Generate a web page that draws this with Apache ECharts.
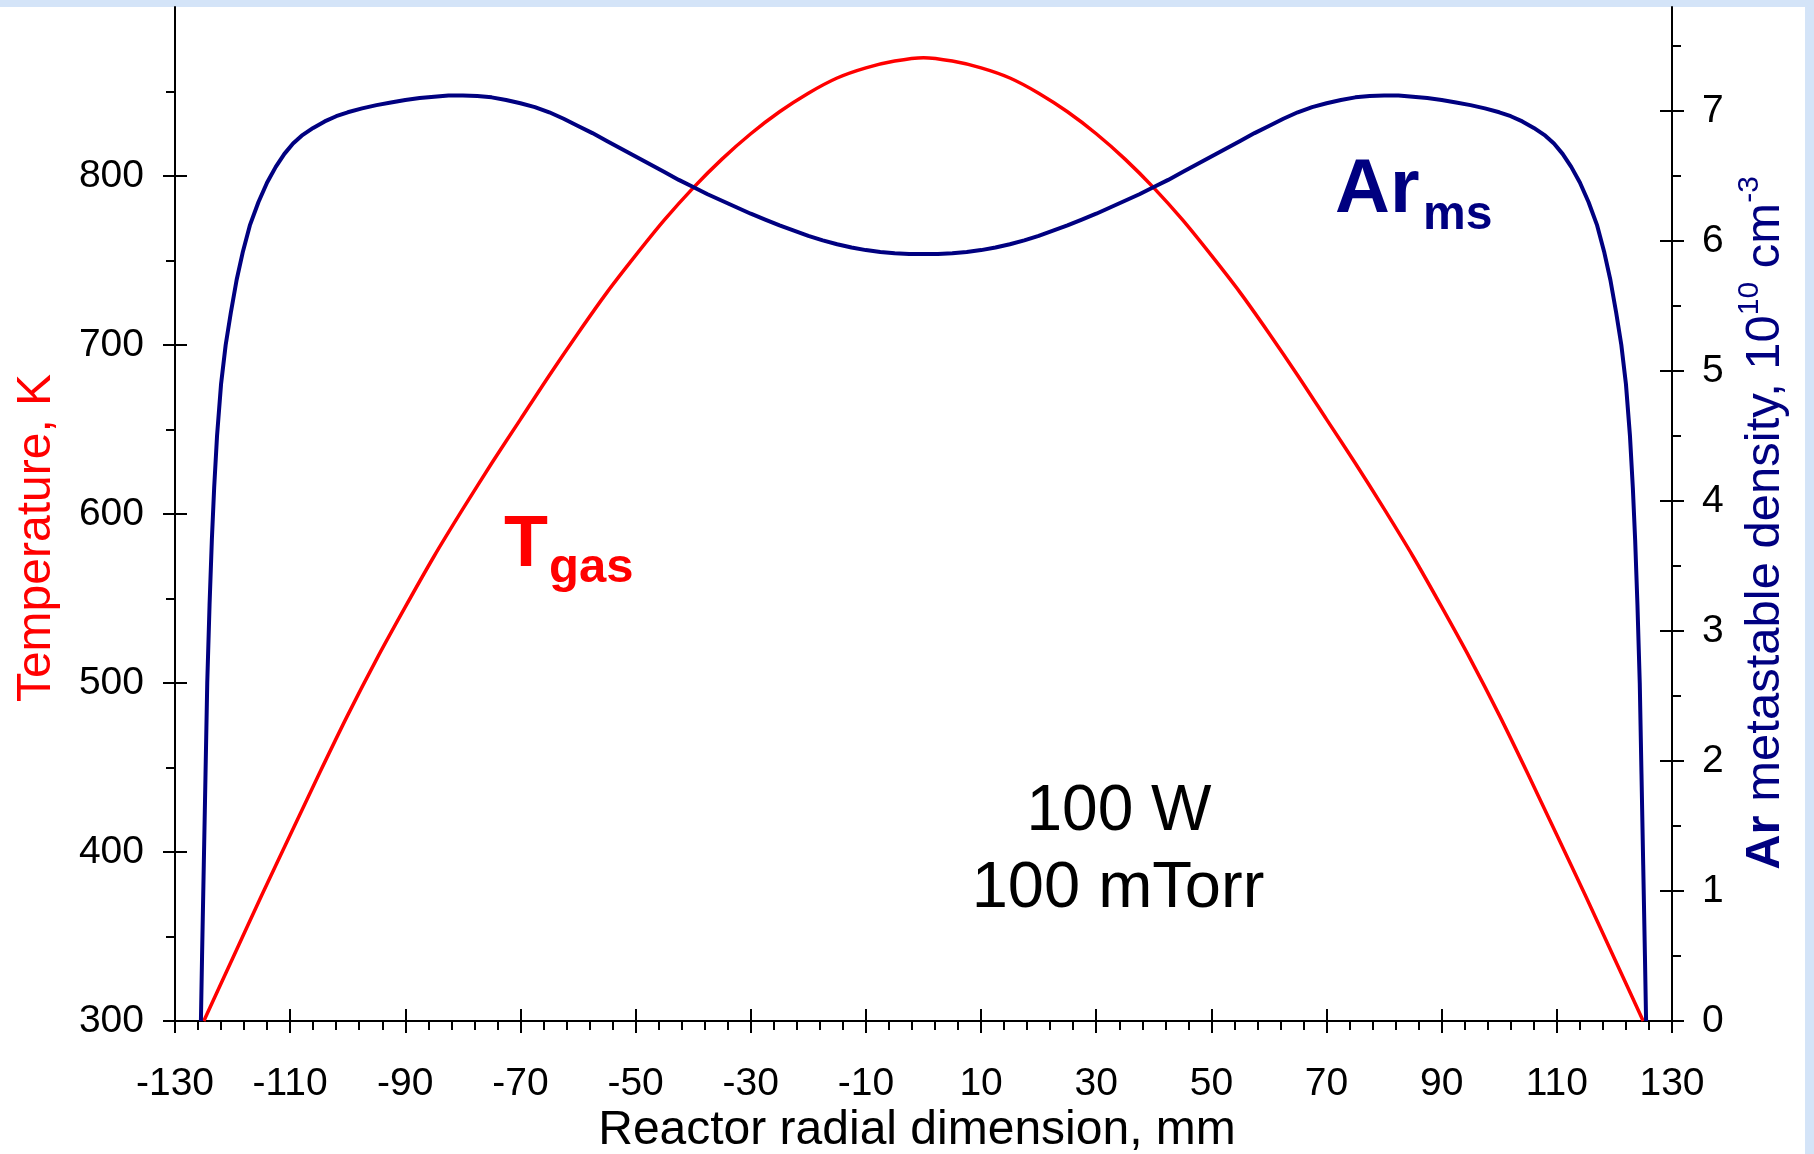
<!DOCTYPE html>
<html>
<head>
<meta charset="utf-8">
<title>Gas temperature and Ar metastable density</title>
<script src="https://cdn.jsdelivr.net/npm/echarts@6/dist/echarts.min.js"></script>
<style>
  html, body { margin: 0; padding: 0; width: 1814px; height: 1154px; overflow: hidden; background: #d4e4f8; }
  #panel { position: absolute; left: 0; top: 7px; width: 1805px; height: 1147px; background: #ffffff; }
  #chart { position: absolute; left: 0; top: 0; width: 1814px; height: 1154px; }
</style>
</head>
<body>
<div id="panel"></div>
<div id="chart"></div>
<script>
// Radial profiles at 100 W, 100 mTorr
// Gas temperature, K (every 5 mm)
const tgasX = [-125, -120, -115, -110, -105, -100, -95, -90, -85, -80, -75, -70, -65, -60, -55, -50, -45, -40,
               -35, -30, -25, -20, -15, -10, -5, 0,
               5, 10, 15, 20, 25, 30, 35, 40, 45, 50, 55, 60, 65, 70, 75, 80, 85, 90, 95, 100, 105, 110,
               115, 120, 125];
const tgasK = [300, 337, 374, 410, 446, 481, 514, 545, 575, 603, 630, 656, 682, 707, 731, 753, 774, 793,
               810, 825, 838, 849, 858, 864, 868, 870,
               868, 864, 858, 849, 838, 825, 810, 793, 774, 753, 731, 707, 682, 656, 630, 603, 575, 545, 514,
               481, 446, 410, 374, 337, 300];

// Ar metastable density, 1e10 cm^-3
const armsX = [-125.5, -125.3, -125.0, -124.7, -124.4, -124.0, -123.6, -123.2, -122.7, -122.0, -121.2, -120.3,
               -119.3, -118.2, -117.0, -115.5, -114.0, -112.5, -111.0, -109.5, -108.0, -106.0, -104.0, -102.0,
               -100.0, -97.5, -95.0, -92.5, -90.0, -87.5, -85.0, -82.5, -80.0, -77.5, -75.0, -72.5, -70.0,
               -67.5, -65.0, -62.5, -60.0, -57.5, -55.0, -52.5, -50.0, -47.5, -45.0, -42.5, -40.0, -37.5,
               -35.0, -32.5, -30.0, -27.5, -25.0, -22.5, -20.0, -17.5, -15.0, -12.5, -10.0, -7.5, -5.0, -2.5,
               0,
               2.5, 5.0, 7.5, 10.0, 12.5, 15.0, 17.5, 20.0, 22.5, 25.0, 27.5, 30.0, 32.5, 35.0, 37.5, 40.0,
               42.5, 45.0, 47.5, 50.0, 52.5, 55.0, 57.5, 60.0, 62.5, 65.0, 67.5, 70.0, 72.5, 75.0, 77.5, 80.0,
               82.5, 85.0, 87.5, 90.0, 92.5, 95.0, 97.5, 100.0, 102.0, 104.0, 106.0, 108.0, 109.5, 111.0,
               112.5, 114.0, 115.5, 117.0, 118.2, 119.3, 120.3, 121.2, 122.0, 122.7, 123.2, 123.6, 124.0,
               124.4, 124.7, 125.0, 125.3, 125.5];
const armsDensity = [0, 0.5, 1.2, 1.9, 2.6, 3.2, 3.7, 4.1, 4.5, 4.9, 5.2, 5.45,
                     5.7, 5.92, 6.12, 6.3, 6.45, 6.57, 6.67, 6.75, 6.81, 6.87, 6.92, 6.96,
                     6.99, 7.02, 7.045, 7.065, 7.085, 7.10, 7.11, 7.12, 7.12, 7.115, 7.105, 7.085, 7.06,
                     7.03, 6.99, 6.94, 6.885, 6.83, 6.77, 6.71, 6.65, 6.59, 6.53, 6.47, 6.415, 6.36,
                     6.31, 6.26, 6.21, 6.165, 6.12, 6.08, 6.04, 6.005, 5.975, 5.95, 5.93, 5.915, 5.905, 5.90,
                     5.90,
                     5.90, 5.905, 5.915, 5.93, 5.95, 5.975, 6.005, 6.04, 6.08, 6.12, 6.165, 6.21, 6.26, 6.31, 6.36, 6.415,
                     6.47, 6.53, 6.59, 6.65, 6.71, 6.77, 6.83, 6.885, 6.94, 6.99, 7.03, 7.06, 7.085, 7.105, 7.115, 7.12,
                     7.12, 7.11, 7.10, 7.085, 7.065, 7.045, 7.02, 6.99, 6.96, 6.92, 6.87, 6.81, 6.75, 6.67,
                     6.57, 6.45, 6.3, 6.12, 5.92, 5.7, 5.45, 5.2, 4.9, 4.5, 4.1, 3.7, 3.2,
                     2.6, 1.9, 1.2, 0.5, 0];

// Axis tick labels
const radiusTicks = [-130, -110, -90, -70, -50, -30, -10, 10, 30, 50, 70, 90, 110, 130];
const tempTicks = [300, 400, 500, 600, 700, 800];
const densityTicks = [0, 1, 2, 3, 4, 5, 6, 7];

// minor tick positions between the labelled ones
function subdivide(ticks, parts, extraEnd) {
  const out = [];
  for (let i = 1; i < ticks.length; i++) {
    const step = (ticks[i] - ticks[i - 1]) / parts;
    for (let k = 1; k < parts; k++) out.push(+(ticks[i - 1] + k * step).toFixed(4));
  }
  if (extraEnd !== undefined) out.push(extraEnd);
  return out;
}
const radiusMinor = subdivide(radiusTicks, 5);
const tempMinor = subdivide(tempTicks, 2, 850);
const densityMinor = subdivide(densityTicks, 2, 7.5);

const FONT = '"Liberation Sans", Arial, Helvetica, sans-serif';
const RED = '#ff0000';
const NAVY = '#000080';
const BLACK = '#000000';

function pairs(xs, ys) { return xs.map((x, i) => [x, ys[i]]); }

function axis(position, min, max, opts) {
  return {
    type: 'value', position, min, max,
    axisLine: { show: !!opts.line, onZero: false, lineStyle: { color: BLACK, width: 2 } },
    axisTick: { show: true, inside: !!opts.inside, customValues: opts.ticks, length: opts.len,
                lineStyle: { color: BLACK, width: 2 } },
    axisLabel: opts.labels ? { show: true, customValues: opts.ticks, color: BLACK, fontSize: 39,
                               fontFamily: FONT, margin: opts.margin } : { show: false },
    splitLine: { show: false },
    minorTick: { show: false },
    axisPointer: { show: false }
  };
}

const chart = echarts.init(document.getElementById('chart'), null, { renderer: 'canvas' });

chart.setOption({
  animation: false,
  backgroundColor: 'transparent',
  grid: { left: 175, right: 142, top: 7, bottom: 133, containLabel: false },
  xAxis: [
    axis('bottom', -130, 130, { line: true, ticks: radiusTicks, len: 12, labels: true, margin: 44 }),
    axis('bottom', -130, 130, { inside: true, ticks: radiusTicks, len: 12 }),
    axis('bottom', -130, 130, { ticks: radiusMinor, len: 9 })
  ],
  yAxis: [
    axis('left', 300, 900, { line: true, ticks: tempTicks, len: 12, labels: true, margin: 31 }),
    axis('left', 300, 900, { inside: true, ticks: tempTicks, len: 12 }),
    axis('left', 300, 900, { ticks: tempMinor, len: 9 }),
    axis('right', 0, 7.8, { line: true, ticks: densityTicks, len: 12, labels: true, margin: 30 }),
    axis('right', 0, 7.8, { inside: true, ticks: densityTicks, len: 12 }),
    axis('right', 0, 7.8, { ticks: densityMinor, len: 9 })
  ],
  series: [
    {
      name: 'Tgas', type: 'line', xAxisIndex: 0, yAxisIndex: 0,
      data: pairs(tgasX, tgasK), showSymbol: false, smooth: 0.3,
      lineStyle: { color: RED, width: 3.5, join: 'round' }, z: 3
    },
    {
      name: 'Arms', type: 'line', xAxisIndex: 0, yAxisIndex: 3,
      data: pairs(armsX, armsDensity), showSymbol: false, smooth: false,
      lineStyle: { color: NAVY, width: 4, join: 'round' }, z: 4
    }
  ],
  graphic: [
    { type: 'text', x: 37, y: 538, rotation: Math.PI / 2, z: 10,
      style: { text: 'Temperature, K', fill: RED, fontSize: 48, fontFamily: FONT, align: 'center', verticalAlign: 'middle' } },
    { type: 'text', x: 1765, y: 523, rotation: Math.PI / 2, z: 10,
      style: {
        text: '{b|Ar}{n| metastable density, 10}{s|10}{n| cm}{s|-3}',
        fill: NAVY, fontFamily: FONT, align: 'center', verticalAlign: 'middle',
        rich: {
          b: { fontSize: 49, fontWeight: 'bold', fill: NAVY, fontFamily: FONT, lineHeight: 60 },
          n: { fontSize: 49, fill: NAVY, fontFamily: FONT, lineHeight: 60 },
          s: { fontSize: 30, fill: NAVY, fontFamily: FONT, lineHeight: 44, verticalAlign: 'top' }
        }
      } },
    { type: 'text', x: 917, y: 1131, z: 10,
      style: { text: 'Reactor radial dimension, mm', fill: BLACK, fontSize: 48, fontFamily: FONT, align: 'center', verticalAlign: 'middle' } },
    { type: 'text', x: 504, y: 546, z: 10,
      style: { text: 'T', fill: RED, fontSize: 72, fontWeight: 'bold', fontFamily: FONT, align: 'left', verticalAlign: 'middle' } },
    { type: 'text', x: 549, y: 568, z: 10,
      style: { text: 'gas', fill: RED, fontSize: 49, fontWeight: 'bold', fontFamily: FONT, align: 'left', verticalAlign: 'middle' } },
    { type: 'text', x: 1335, y: 191, z: 10,
      style: { text: 'Ar', fill: NAVY, fontSize: 76, fontWeight: 'bold', fontFamily: FONT, align: 'left', verticalAlign: 'middle' } },
    { type: 'text', x: 1423, y: 216, z: 10,
      style: { text: 'ms', fill: NAVY, fontSize: 48, fontWeight: 'bold', fontFamily: FONT, align: 'left', verticalAlign: 'middle' } },
    { type: 'text', x: 1119, y: 812, z: 10,
      style: { text: '100 W', fill: BLACK, fontSize: 64, fontFamily: FONT, align: 'center', verticalAlign: 'middle' } },
    { type: 'text', x: 1118, y: 889, z: 10,
      style: { text: '100 mTorr', fill: BLACK, fontSize: 65, fontFamily: FONT, align: 'center', verticalAlign: 'middle' } }
  ]
});
</script>
</body>
</html>
